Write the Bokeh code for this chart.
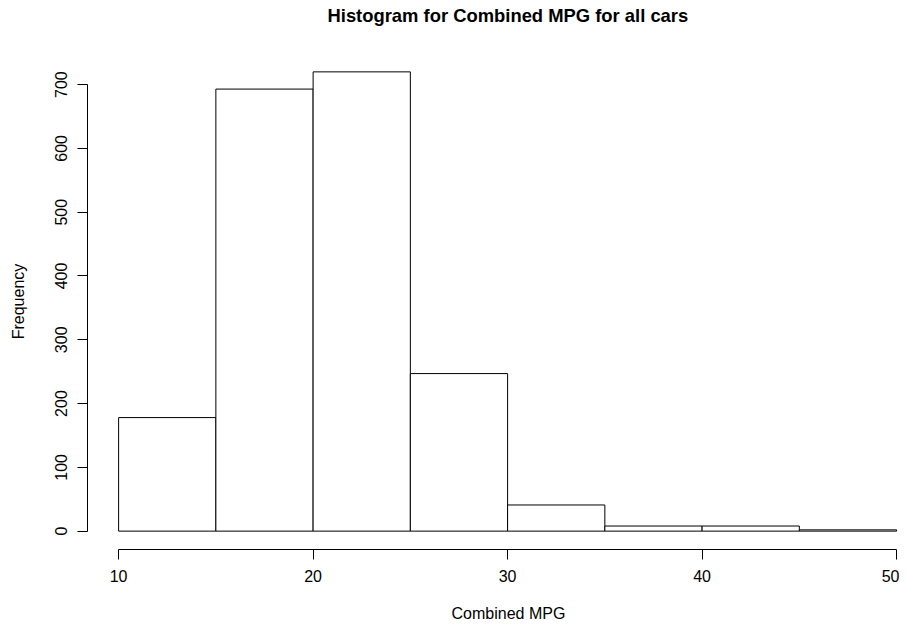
from bokeh.plotting import figure
from bokeh.models import FixedTicker, Range1d, Title
from bokeh.embed import file_html
from bokeh.resources import INLINE

# Data
bin_left = [10, 15, 20, 25, 30, 35, 40, 45]
bin_right = [15, 20, 25, 30, 35, 40, 45, 50]
counts = [178, 693, 720, 247, 41, 8, 8, 2]
x_ticks = [10, 20, 30, 40, 50]
y_ticks = [0, 100, 200, 300, 400, 500, 600, 700]
title_text = "Histogram for Combined MPG for all cars"
x_title = "Combined MPG"
y_title = "Frequency"

FONT = "Liberation Sans"

p = figure(
    output_backend="svg", toolbar_location=None,
    frame_width=812, frame_height=496,
    min_border_left=87, min_border_right=0, min_border_top=53, min_border_bottom=78,
    x_range=Range1d(8.4, 50.15), y_range=Range1d(-28.8, 748.8),
    background_fill_color="white", border_fill_color="white",
)
p.outline_line_color = None
p.grid.visible = False

p.quad(left=bin_left, right=bin_right, bottom=0, top=counts,
       fill_color="white", line_color="black", line_width=1)

p.xaxis.ticker = FixedTicker(ticks=x_ticks)
p.yaxis.ticker = FixedTicker(ticks=y_ticks)
p.xaxis.bounds = (min(x_ticks), max(x_ticks))
p.yaxis.bounds = (min(y_ticks), max(y_ticks))
for ax in (p.xaxis, p.yaxis):
    ax.axis_line_color = "black"
    ax.major_tick_line_color = "black"
    ax.major_tick_out = 10
    ax.major_tick_in = 0
    ax.minor_tick_line_color = None
    ax.major_label_text_font = FONT
    ax.major_label_text_font_size = "16px"
    ax.major_label_text_color = "black"
    ax.axis_label_text_font = FONT
    ax.axis_label_text_font_size = "16px"
    ax.axis_label_text_font_style = "normal"
    ax.axis_label_text_color = "black"

p.xaxis.major_label_standoff = 10
p.yaxis.major_label_orientation = "vertical"
p.yaxis.major_label_standoff = 10
p.yaxis.axis_label = y_title
p.yaxis.axis_label_standoff = 26

# spacer panels (blank) so the titles sit where R puts them
p.add_layout(Title(text=" ", text_font_size="10px", standoff=11), "above")
p.add_layout(Title(text=title_text, align="left", offset=240, standoff=4,
                   vertical_align="top",
                   text_font=FONT, text_font_size="18.4px", text_font_style="bold",
                   text_color="black"), "above")

p.add_layout(Title(text=" ", text_font_size="10px", standoff=7), "below")
p.add_layout(Title(text=x_title, align="left", offset=364, standoff=0,
                   vertical_align="top",
                   text_font=FONT, text_font_size="16px", text_font_style="normal",
                   text_color="black"), "below")

open("out.html", "w").write(file_html(p, INLINE))
